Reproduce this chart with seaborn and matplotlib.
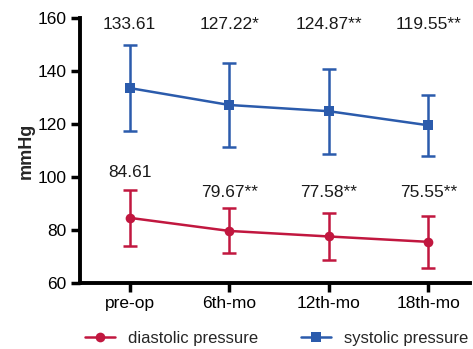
import numpy as np
import pandas as pd
import matplotlib.pyplot as plt
import seaborn as sns

# data
timepoints = ["pre-op", "6th-mo", "12th-mo", "18th-mo"]
systolic = [133.61, 127.22, 124.87, 119.55]
systolic_sd = [16.1, 16.0, 16.1, 11.5]
diastolic = [84.61, 79.67, 77.58, 75.55]
diastolic_sd = [10.7, 8.5, 8.7, 9.9]
systolic_labels = ["133.61", "127.22*", "124.87**", "119.55**"]
diastolic_labels = ["84.61", "79.67**", "77.58**", "75.55**"]

red = "#C1173F"
blue = "#2B5BAC"

sns.set_style("ticks")
plt.rcParams["font.family"] = ["Liberation Sans", "DejaVu Sans"]

df = pd.DataFrame({
    "time": list(range(4)) * 2,
    "value": diastolic + systolic,
    "series": ["diastolic pressure"] * 4 + ["systolic pressure"] * 4,
})

fig = plt.figure(figsize=(4.73, 3.49), dpi=100)
ax = fig.add_axes([0.169, 0.189, 0.825, 0.759])

sns.lineplot(data=df, x="time", y="value", hue="series", style="series",
             palette=[red, blue], markers=["o", "s"], dashes=False,
             markersize=7, markeredgewidth=0, linewidth=1.8, ax=ax)

x = np.arange(4)
ax.errorbar(x, diastolic, yerr=diastolic_sd, fmt="none", ecolor=red,
            elinewidth=1.8, capsize=5, capthick=1.8)
ax.errorbar(x, systolic, yerr=systolic_sd, fmt="none", ecolor=blue,
            elinewidth=1.8, capsize=5, capthick=1.8)

for i, lab in enumerate(systolic_labels):
    ax.text(i, 157.7, lab, ha="center", va="center", fontsize=12.5, color="#1a1a1a")
diast_y = [101.9, 94.3, 94.3, 94.3]
for i, lab in enumerate(diastolic_labels):
    ax.text(i, diast_y[i], lab, ha="center", va="center", fontsize=12.5, color="#1a1a1a")

ax.set_xlim(-0.5, 3.42)
ax.set_ylim(60, 160)
ax.set_yticks([60, 80, 100, 120, 140, 160])
ax.set_xticks(x)
ax.set_xticklabels(timepoints)
ax.set_xlabel("")
ax.set_ylabel("mmHg", fontsize=13, fontweight="bold", labelpad=2)
ax.tick_params(labelsize=12.5, width=2.5, length=6.5, colors="black", pad=3)
for s in ["left", "bottom"]:
    ax.spines[s].set_linewidth(2.8)
    ax.spines[s].set_color("black")
sns.despine(ax=ax)

ax.legend(loc="center left", bbox_to_anchor=(0.163, 0.03),
          bbox_transform=fig.transFigure, ncol=2, frameon=False,
          fontsize=12, borderpad=0, handlelength=1.75, handletextpad=0.8,
          columnspacing=2.6)

fig.savefig("out.png", dpi=100)
